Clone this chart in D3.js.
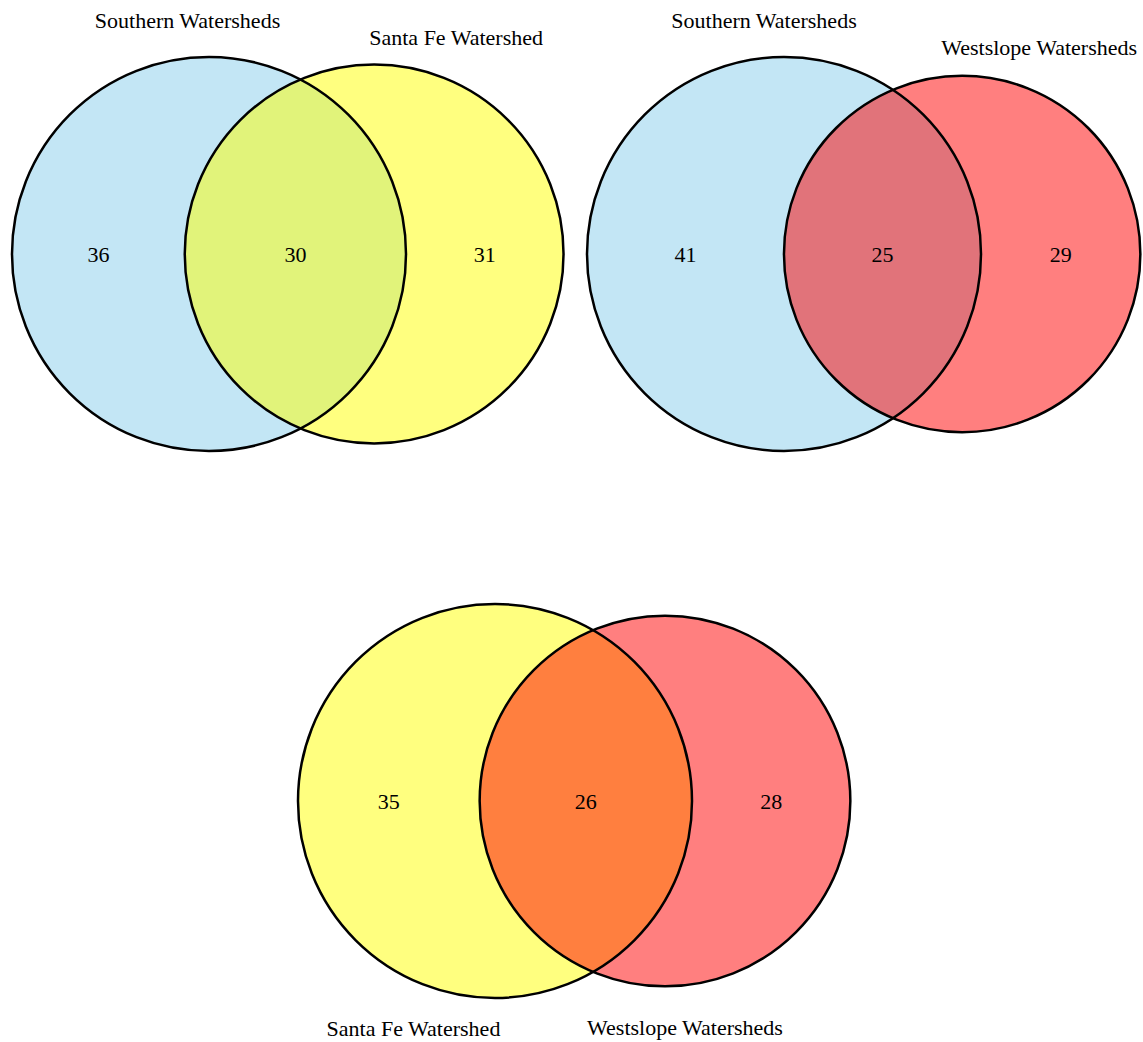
<!DOCTYPE html>
<html>
<head>
<meta charset="utf-8">
<script src="https://cdn.jsdelivr.net/npm/d3@7"></script>
<style>
  html, body { margin: 0; padding: 0; background: #fff; }
  text { font-family: "Liberation Serif", "Times New Roman", serif; font-size: 22px; fill: #000; }
</style>
</head>
<body>
<svg id="chart" width="1143" height="1042"></svg>
<script>
// ---- data ----
const setNames = ["Southern Watersheds", "Santa Fe Watershed", "Westslope Watersheds"];
const setColors = ["#87CEEB", "#FFFF00", "#FF0000"];
// pairwise diagrams: [setA, setB]
const pairs = [[0, 1], [0, 2], [1, 2]];
const onlyA = [36, 41, 35];
const both  = [30, 25, 26];
const onlyB = [31, 29, 28];

// ---- layout (not data) ----
const panelLeft = [12, 587, 298];       // left edge of first circle
const panelCY   = [254, 254, 801];
const maxRadius = 197;
// label offsets relative to circle centre [dxA, dyA, dxB, dyB]
const labelOff = [
  [-21.5, -234, 82, -217],
  [-20, -234, 77, -207],
  [-81.5, 227, 20, 226]
];

const svg = d3.select("#chart");

function overlapArea(r1, r2, d) {
  if (d >= r1 + r2) return 0;
  if (d <= Math.abs(r1 - r2)) return Math.PI * Math.min(r1, r2) ** 2;
  const a1 = r1 * r1 * Math.acos((d * d + r1 * r1 - r2 * r2) / (2 * d * r1));
  const a2 = r2 * r2 * Math.acos((d * d + r2 * r2 - r1 * r1) / (2 * d * r2));
  const k = 0.5 * Math.sqrt((-d + r1 + r2) * (d + r1 - r2) * (d - r1 + r2) * (d + r1 + r2));
  return a1 + a2 - k;
}

pairs.forEach((p, i) => {
  const totA = onlyA[i] + both[i];
  const totB = onlyB[i] + both[i];
  const r = d3.scaleSqrt().domain([0, Math.max(totA, totB)]).range([0, maxRadius]);
  const rA = r(totA), rB = r(totB);
  const target = both[i] / totA * Math.PI * rA * rA;
  let lo = Math.abs(rA - rB), hi = rA + rB;
  for (let k = 0; k < 100; k++) {
    const mid = (lo + hi) / 2;
    if (overlapArea(rA, rB, mid) > target) lo = mid; else hi = mid;
  }
  const d = (lo + hi) / 2;
  const cxA = panelLeft[i] + rA, cy = panelCY[i];
  const cxB = cxA + d;
  const g = svg.append("g");
  const circles = [
    { cx: cxA, r: rA, color: setColors[p[0]] },
    { cx: cxB, r: rB, color: setColors[p[1]] }
  ];
  g.selectAll("circle.fill").data(circles).join("circle")
    .attr("class", "fill")
    .attr("cx", c => c.cx).attr("cy", cy).attr("r", c => c.r)
    .attr("fill", c => c.color).attr("fill-opacity", 0.5);
  g.selectAll("circle.edge").data(circles).join("circle")
    .attr("class", "edge")
    .attr("cx", c => c.cx).attr("cy", cy).attr("r", c => c.r)
    .attr("fill", "none").attr("stroke", "#000").attr("stroke-width", 2.5);

  // region label positions: midpoints along centre line
  const xs = [cxA - rA, cxB - rB, cxA + rA, cxB + rB];
  const nums = [
    { v: onlyA[i], x: (xs[0] + xs[1]) / 2 },
    { v: both[i],  x: (xs[1] + xs[2]) / 2 },
    { v: onlyB[i], x: (xs[2] + xs[3]) / 2 }
  ];
  g.selectAll("text.num").data(nums).join("text")
    .attr("class", "num")
    .attr("x", n => n.x).attr("y", cy).attr("dy", "0.35em")
    .attr("text-anchor", "middle")
    .text(n => n.v);

  const lo2 = labelOff[i];
  const labs = [
    { t: setNames[p[0]], x: cxA + lo2[0], y: cy + lo2[1] },
    { t: setNames[p[1]], x: cxB + lo2[2], y: cy + lo2[3] }
  ];
  g.selectAll("text.cat").data(labs).join("text")
    .attr("class", "cat")
    .attr("x", l => l.x).attr("y", l => l.y).attr("dy", "0.35em")
    .attr("text-anchor", "middle")
    .text(l => l.t);
});
</script>
</body>
</html>
